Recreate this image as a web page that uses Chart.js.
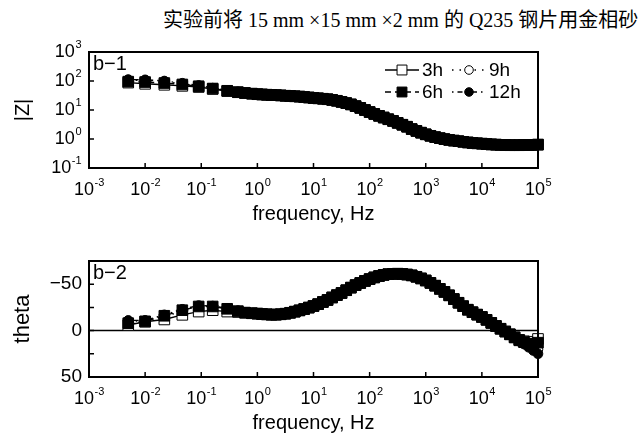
<!DOCTYPE html>
<html>
<head>
<meta charset="utf-8">
<script src="https://cdn.jsdelivr.net/npm/chart.js@4.4.1/dist/chart.umd.min.js"></script>
<style>
  body { margin: 0; background: #fff; width: 643px; height: 435px; position: relative; overflow: hidden; }
  #title { position: absolute; left: 163px; top: 4px; font: 20px "Liberation Serif", "Noto Sans CJK SC"; white-space: nowrap; color: #000; }
  canvas { position: absolute; left: 0; top: 0; }
</style>
</head>
<body>
<div id="title">实验前将 15 mm ×15 mm ×2 mm 的 Q235 钢片用金相砂</div>
<canvas id="cz" width="643" height="435"></canvas>
<canvas id="ct" width="643" height="435"></canvas>
<script>
// frequency points, Hz
const freq = [0.005, 0.01, 0.022, 0.046, 0.09, 0.16, 0.29, 0.45, 0.6, 0.8,
  1, 1.21, 1.47, 1.78, 2.15, 2.61, 3.16, 3.83, 4.64, 5.62, 6.81, 8.25,
  10, 12.1, 14.7, 17.8, 21.5, 26.1, 31.6, 38.3, 46.4, 56.2, 68.1, 82.5,
  100, 121, 147, 178, 215, 261, 316, 383, 464, 562, 681, 825,
  1000, 1210, 1470, 1780, 2150, 2610, 3160, 3830, 4640, 5620, 6810, 8250,
  10000, 12100, 14700, 17800, 21500, 26100, 31600, 38300, 46400, 56200, 68100, 82500,
  100000];

const seriesNames = ['3h', '6h', '9h', '12h'];

// |Z| low frequency part (0.005 .. 0.45 Hz), per series
const zHead3h = [88, 80, 74, 68, 62, 53, 45, 41];
const zHead6h = [95, 92, 85, 76, 66, 55, 46, 41];
const zHead9h = [108, 105, 96, 80, 68, 56, 47, 42];
const zHead12h = [112, 110, 100, 84, 70, 57, 47, 42];
// |Z| from 0.6 Hz up, the four curves lie on top of each other
const zTail = [38.5, 36.5,
  35, 34.3, 33.6, 33, 32.4, 31.8, 31, 30.4, 29.7, 29, 28, 27,
  26, 25.3, 24.4, 23.5, 22.2, 20.8, 19, 17.3, 15.6, 13.6, 11.8, 10,
  8.5, 7.3, 6.3, 5.5, 4.8, 4.2, 3.6, 3.1, 2.65, 2.2, 1.9, 1.65,
  1.45, 1.29, 1.16, 1.07, 0.99, 0.93, 0.88, 0.84, 0.80, 0.76, 0.73, 0.71,
  0.69, 0.67, 0.65, 0.64, 0.63, 0.62, 0.61, 0.61, 0.61, 0.62, 0.62, 0.63,
  0.64];

// theta, low frequency part per series
const tHead3h = [-6, -9.5, -12, -17, -20.5, -22, -20.5, -20];
const tHead6h = [-8, -10, -16, -22, -26, -26, -23.5, -21];
const tHead9h = [-10, -10.5, -15, -21, -25, -25, -23, -21];
const tHead12h = [-11, -11, -17, -23, -27, -26.5, -24, -21.5];
// theta, 0.6 Hz .. 38 kHz (shared)
const tMid = [-19.3, -18.7,
  -18.3, -17.8, -17.5, -17.2, -17.2, -17.6, -18.2, -19.2, -20.4, -21.8, -23.2, -24.8,
  -26.5, -28.5, -30.8, -33, -35.7, -38.2, -40.5, -43.5, -46.3, -49, -51.3, -53.5,
  -55.5, -57.3, -58.8, -60, -60.8, -61.2, -61.3, -61, -60.4, -59.5, -58, -56.2,
  -54, -51.4, -48.4, -45, -41.7, -38, -34, -30, -26.3, -22.5, -19.8, -17.2,
  -14.7, -11.6, -8.3, -5, -2, 1, 4, 7.3];
// theta, last five points (46 kHz .. 100 kHz)
const tEnd3h = [10, 11.5, 12.5, 12, 9];
const tEnd6h = [10.5, 12.5, 14, 14.5, 13];
const tEnd9h = [11, 13.5, 16, 18, 20];
const tEnd12h = [11.5, 14.5, 18, 21.5, 25];

const zData = {
  '3h': zHead3h.concat(zTail), '6h': zHead6h.concat(zTail),
  '9h': zHead9h.concat(zTail), '12h': zHead12h.concat(zTail)
};
const tData = {
  '3h': tHead3h.concat(tMid, tEnd3h), '6h': tHead6h.concat(tMid, tEnd6h),
  '9h': tHead9h.concat(tMid, tEnd9h), '12h': tHead12h.concat(tMid, tEnd12h)
};

// axis ticks
const freqTicks = [1e-3, 1e-2, 1e-1, 1, 10, 100, 1e3, 1e4, 1e5];
const freqExp = ['-3', '-2', '-1', '0', '1', '2', '3', '4', '5'];
const zTicks = [0.1, 1, 10, 100, 1000];
const zExp = ['-1', '0', '1', '2', '3'];
const thetaTicks = [-50, -25, 0, 25];
const thetaLabels = [-50, 0, 50];

const look = {
  '3h': { pointStyle: 'rect', radius: 7.5, fill: '#fff', dash: [], order: 2 },
  '6h': { pointStyle: 'rect', radius: 7.5, fill: '#000', dash: [6, 4], order: 0 },
  '9h': { pointStyle: 'circle', radius: 4.8, fill: '#fff', dash: [1.5, 6], order: 3 },
  '12h': { pointStyle: 'circle', radius: 4.8, fill: '#000', dash: [1.5, 4, 5, 4], order: 1 }
};

const FONT = '"Liberation Sans", Arial, sans-serif';

function makeSets(src) {
  return seriesNames.map(name => ({
    label: name,
    data: freq.map((f, i) => ({ x: f, y: src[name][i] })),
    borderColor: '#000',
    borderWidth: 1.4,
    borderDash: look[name].dash,
    pointStyle: look[name].pointStyle,
    pointRadius: look[name].radius,
    pointBackgroundColor: look[name].fill,
    pointBorderColor: '#000',
    pointBorderWidth: 1,
    order: look[name].order,
    clip: false
  }));
}

function powLabel(ctx, exp, x, y, align) {
  ctx.font = '18px ' + FONT;
  const wb = ctx.measureText('10').width;
  ctx.font = '11px ' + FONT;
  const ws = ctx.measureText(exp).width;
  const start = align === 'center' ? x - (wb + ws) / 2 : x - wb - ws;
  ctx.textAlign = 'left';
  ctx.textBaseline = 'middle';
  ctx.font = '18px ' + FONT;
  ctx.fillText('10', start, y);
  ctx.font = '11px ' + FONT;
  ctx.fillText(exp, start + wb + 0.5, y - 7);
}

function marker(ctx, style, r, fill, x, y) {
  ctx.fillStyle = fill;
  ctx.strokeStyle = '#000';
  ctx.lineWidth = 1;
  ctx.setLineDash([]);
  ctx.beginPath();
  if (style === 'rect') {
    const s = r * Math.SQRT1_2;
    ctx.rect(x - s, y - s, 2 * s, 2 * s);
  } else {
    ctx.arc(x, y, r, 0, Math.PI * 2);
  }
  ctx.fill();
  ctx.stroke();
}

const frame = {
  id: 'frame',
  beforeDatasetsDraw(chart, args, o) {
    if (!o.zeroLine) return;
    const { ctx, chartArea: a, scales: { y } } = chart;
    const py = y.getPixelForValue(0);
    ctx.save();
    ctx.strokeStyle = '#000';
    ctx.lineWidth = 1.5;
    ctx.beginPath();
    ctx.moveTo(a.left, py);
    ctx.lineTo(a.right, py);
    ctx.stroke();
    ctx.restore();
  },
  afterDraw(chart, args, o) {
    const { ctx, chartArea: a, scales: { x, y } } = chart;
    ctx.save();
    ctx.fillStyle = '#000';
    ctx.strokeStyle = '#000';
    ctx.lineWidth = 2;
    ctx.strokeRect(a.left, a.top, a.right - a.left, a.bottom - a.top);

    // inward tick marks
    ctx.lineWidth = 1.5;
    ctx.beginPath();
    freqTicks.slice(1, -1).forEach(v => {
      const px = x.getPixelForValue(v);
      ctx.moveTo(px, a.bottom);
      ctx.lineTo(px, a.bottom - 5);
    });
    o.yTicks.forEach(v => {
      const py = y.getPixelForValue(v);
      ctx.moveTo(a.left, py);
      ctx.lineTo(a.left + 5, py);
    });
    ctx.stroke();

    // x tick labels
    freqTicks.forEach((v, i) => powLabel(ctx, freqExp[i], x.getPixelForValue(v), a.bottom + 22, 'center'));

    // y tick labels
    if (o.logY) {
      zTicks.forEach((v, i) => powLabel(ctx, zExp[i], a.left - 8, y.getPixelForValue(v), 'right'));
    } else {
      ctx.font = '19px ' + FONT;
      ctx.textAlign = 'right';
      ctx.textBaseline = 'middle';
      thetaLabels.forEach(v => ctx.fillText(v < 0 ? '\u2212' + (-v) : String(v), a.left - 7, y.getPixelForValue(v)));
    }

    // axis titles
    ctx.font = '20px ' + FONT;
    ctx.textAlign = 'center';
    ctx.textBaseline = 'middle';
    ctx.fillText('frequency, Hz', (a.left + a.right) / 2, a.bottom + 46);
    ctx.save();
    ctx.translate(23, (a.top + a.bottom) / 2);
    ctx.rotate(-Math.PI / 2);
    ctx.font = o.yTitleSize + 'px ' + FONT;
    ctx.fillText(o.yTitle, 0, 0);
    ctx.restore();

    // panel label
    ctx.font = '20px ' + FONT;
    ctx.textAlign = 'left';
    ctx.textBaseline = 'alphabetic';
    ctx.fillText(o.panel, a.left + 4, a.top + 18);

    // legend
    if (o.legend) {
      const slots = { '3h': [385, 70], '9h': [452, 70], '6h': [385, 92], '12h': [452, 92] };
      chart.data.datasets.forEach(ds => {
        const [lx, ly] = slots[ds.label];
        const L = look[ds.label];
        ctx.lineWidth = 1.4;
        ctx.setLineDash(L.dash);
        ctx.beginPath();
        ctx.moveTo(lx, ly);
        ctx.lineTo(lx + 34, ly);
        ctx.stroke();
        marker(ctx, L.pointStyle, L.radius - 0.5, L.fill, lx + 17, ly);
        ctx.fillStyle = '#000';
        ctx.font = '19px ' + FONT;
        ctx.textBaseline = 'middle';
        ctx.fillText(ds.label, lx + 37, ly + 1);
      });
    }
    ctx.restore();
  }
};

const fixSize = { afterFit(scale) { if (scale.isHorizontal()) scale.height = 0; else scale.width = 0; } };

function baseOptions(pad, yScale, frameOpts) {
  return {
    responsive: false,
    animation: false,
    events: [],
    layout: { padding: pad },
    scales: {
      x: Object.assign({
        type: 'logarithmic', min: 1e-3, max: 1e5,
        grid: { display: false }, border: { display: false }, ticks: { display: false }
      }, fixSize),
      y: Object.assign(yScale, {
        grid: { display: false }, border: { display: false }, ticks: { display: false }
      }, fixSize)
    },
    plugins: { legend: { display: false }, tooltip: { enabled: false }, frame: frameOpts }
  };
}

new Chart(document.getElementById('cz'), {
  type: 'line',
  data: { datasets: makeSets(zData) },
  options: baseOptions(
    { left: 89, right: 105, top: 52, bottom: 435 - 168 },
    { type: 'logarithmic', min: 0.1, max: 1000 },
    { logY: true, yTicks: [1, 10, 100], yTitle: '|Z|', yTitleSize: 20, panel: 'b\u22121', legend: true }
  ),
  plugins: [frame]
});

new Chart(document.getElementById('ct'), {
  type: 'line',
  data: { datasets: makeSets(tData) },
  options: baseOptions(
    { left: 89, right: 105, top: 261, bottom: 435 - 377 },
    { type: 'linear', min: -75, max: 50, reverse: true },
    { logY: false, yTicks: thetaTicks, yTitle: 'theta', yTitleSize: 22, panel: 'b\u22122', legend: false, zeroLine: true }
  ),
  plugins: [frame]
});
</script>
</body>
</html>
